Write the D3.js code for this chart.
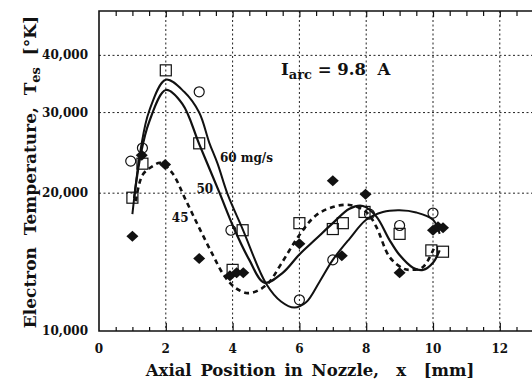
<!DOCTYPE html>
<html><head><meta charset="utf-8">
<script src="https://cdn.jsdelivr.net/npm/d3@7"></script>
<style>
html,body{margin:0;padding:0;background:#fff;}
svg{display:block;}
text{font-family:"DejaVu Serif",serif;font-weight:bold;fill:#111;}
</style></head>
<body><svg id="c" width="532" height="380"></svg>
<script>
// ---- data (x in mm, Te in K) ----
const xTicks = [0, 2, 4, 6, 8, 10, 12];
const yTicks = [10000, 20000, 30000, 40000];
const yTickLabels = ["10,000", "20,000", "30,000", "40,000"];

// 60 mg/s : open circles
const circleX = [0.95, 1.3, 3.0, 3.95, 6.0, 7.0, 8.1, 9.0, 10.0];
const circleT = [23500, 25100, 33300, 16600, 11700, 14300, 18000, 17000, 18100];
// 50 mg/s : open squares
const squareX = [1.0, 1.3, 2.0, 3.0, 4.0, 4.3, 6.0, 7.0, 7.3, 7.95, 9.0, 9.95, 10.3];
const squareT = [19550, 23200, 37100, 25700, 13600, 16600, 17200, 16700, 17200, 18200, 16300, 15000, 14900];
// 45 mg/s : filled diamonds
const diamondX = [1.0, 1.28, 1.98, 3.0, 3.92, 4.12, 4.32, 6.0, 7.0, 7.27, 7.98, 9.0, 10.0, 10.15, 10.3];
const diamondT = [16100, 24200, 23100, 14400, 13200, 13400, 13400, 15500, 21300, 14600, 19900, 13400, 16600, 16900, 16800];

// fitted curves
const fit60X = [1.0, 1.25, 1.5, 2.0, 2.55, 3.0, 3.3, 3.55, 3.85, 4.3, 5.0, 5.45, 5.85, 6.2, 6.6, 7.0, 7.5, 8.0, 8.5, 9.0, 9.5, 10.0, 10.2];
const fit60T = [18000, 25000, 30200, 35400, 33300, 30000, 25800, 23200, 19900, 16700, 12700, 11600, 11250, 11550, 12800, 14300, 15900, 17500, 18200, 18350, 18150, 17500, 16300];
const fit50X = [1.05, 1.25, 1.5, 2.0, 2.5, 3.0, 3.6, 4.05, 4.5, 4.95, 5.5, 6.0, 6.5, 7.0, 7.5, 7.9, 8.3, 8.7, 9.0, 9.4, 9.7, 10.0, 10.2];
const fit50T = [19500, 24300, 28600, 33600, 31300, 25600, 20100, 16700, 14300, 12750, 13400, 14700, 15900, 17200, 18500, 18750, 17800, 15800, 14650, 13750, 13600, 14100, 15000];
const fit45X = [1.1, 1.3, 1.6, 1.85, 2.2, 2.6, 3.0, 3.4, 3.75, 4.1, 4.45, 4.8, 5.1, 5.45, 6.0, 6.5, 7.0, 7.5, 8.0, 8.3, 8.7, 9.1, 9.3, 9.7, 10.05];
const fit45T = [19200, 21900, 22900, 23300, 22100, 19300, 16800, 14700, 13200, 12400, 12100, 12300, 12800, 14000, 16200, 17900, 18650, 18850, 18200, 16900, 14500, 13700, 13600, 13800, 15300];

const curveLabels = [
  {t: "60 mg/s", x: 3.62, y: 23400},
  {t: "50", x: 2.92, y: 20000},
  {t: "45", x: 2.18, y: 17300}
];

// ---- scales ----
const svg = d3.select("#c");
const x = d3.scaleLinear().domain([0, 14]).range([99, 99 + 14 * 33.4]);
const y = d3.scaleLog().domain([10000, 50000]).range([331, 11]);

// gridlines
const grid = svg.append("g").attr("stroke", "#222").attr("stroke-width", 1).attr("stroke-dasharray", "2,2.5");
grid.selectAll("line.v").data(xTicks.filter(d => d > 0)).join("line").attr("class", "v")
  .attr("x1", d => x(d)).attr("x2", d => x(d)).attr("y1", y(50000)).attr("y2", y(10000));
grid.selectAll("line.h").data(yTicks.filter(d => d > 10000)).join("line").attr("class", "h")
  .attr("x1", x(0)).attr("x2", 540).attr("y1", d => y(d)).attr("y2", d => y(d));

// axes via d3
const minorT = d3.range(0.5, 14, 0.5).filter(d => d % 2 !== 0);
const majorT = xTicks.filter(d => d > 0);
const gBottom = svg.append("g").attr("transform", `translate(0,${y(10000)})`);
gBottom.append("g").call(d3.axisTop(x).tickValues(minorT).tickSize(4).tickFormat(""));
gBottom.append("g").call(d3.axisTop(x).tickValues(majorT).tickSize(8).tickFormat(""));
const gTop = svg.append("g").attr("transform", `translate(0,${y(50000)})`);
gTop.append("g").call(d3.axisBottom(x).tickValues(minorT).tickSize(5).tickFormat(""));
gTop.append("g").call(d3.axisBottom(x).tickValues(majorT).tickSize(6).tickFormat(""));
svg.selectAll(".domain").remove();
svg.selectAll(".tick line").attr("stroke", "#111").attr("stroke-width", 1.2);

// frame
svg.append("path").attr("fill", "none").attr("stroke", "#111").attr("stroke-width", 1.6)
  .attr("d", `M540,${y(50000)}H${x(0)}V${y(10000)}H540`);

// tick labels
svg.append("g").selectAll("text").data(xTicks).join("text")
  .attr("x", d => x(d)).attr("y", 353).attr("text-anchor", "middle")
  .attr("font-size", 12).text(d => d);
svg.append("g").selectAll("text").data(yTicks).join("text")
  .attr("x", 88).attr("y", d => y(d) + 4).attr("text-anchor", "end")
  .attr("font-size", 12).text((d, i) => yTickLabels[i]);

// axis titles
svg.append("text").attr("x", 310).attr("y", 376).attr("text-anchor", "middle")
  .attr("font-size", 16.5).attr("word-spacing", 3).attr("xml:space", "preserve")
  .text("Axial Position in Nozzle,  x  [mm]");
const yt = svg.append("text").attr("transform", "translate(36,172) rotate(-90)")
  .attr("text-anchor", "middle").attr("font-size", 17).attr("xml:space", "preserve");
yt.append("tspan").text("Electron  Temperature,  T");
yt.append("tspan").attr("dy", 4).attr("font-size", 13).text("es");
yt.append("tspan").attr("dy", -4).text("  [°K]");

// annotation
const an = svg.append("text").attr("x", 281).attr("y", 75).attr("font-size", 16.5).attr("xml:space", "preserve");
an.append("tspan").text("I");
an.append("tspan").attr("dy", 4).attr("font-size", 13).text("arc");
an.append("tspan").attr("dy", -4).text(" = 9.8  A");

// curves
const line = d3.line().x(d => x(d[0])).y(d => y(d[1])).curve(d3.curveCatmullRom.alpha(0.5));
const zip = (a, b) => a.map((v, i) => [v, b[i]]);
svg.append("path").attr("d", line(zip(fit60X, fit60T))).attr("fill", "none").attr("stroke", "#111").attr("stroke-width", 2);
svg.append("path").attr("d", line(zip(fit50X, fit50T))).attr("fill", "none").attr("stroke", "#111").attr("stroke-width", 2.2);
svg.append("path").attr("d", line(zip(fit45X, fit45T))).attr("fill", "none").attr("stroke", "#111").attr("stroke-width", 2.6).attr("stroke-dasharray", "5,4");

// markers
svg.append("g").selectAll("circle").data(zip(circleX, circleT)).join("circle")
  .attr("cx", d => x(d[0])).attr("cy", d => y(d[1])).attr("r", 5)
  .attr("fill", "none").attr("stroke", "#111").attr("stroke-width", 1.2);
svg.append("g").selectAll("rect").data(zip(squareX, squareT)).join("rect")
  .attr("x", d => x(d[0]) - 5.5).attr("y", d => y(d[1]) - 5.5).attr("width", 11).attr("height", 11)
  .attr("fill", "none").attr("stroke", "#111").attr("stroke-width", 1.2);
svg.append("g").selectAll("path").data(zip(diamondX, diamondT)).join("path")
  .attr("d", d => { const cx = x(d[0]), cy = y(d[1]); return `M${cx-6},${cy}L${cx},${cy-5.5}L${cx+6},${cy}L${cx},${cy+5.5}Z`; })
  .attr("fill", "#111");

// curve labels
svg.append("g").selectAll("text").data(curveLabels).join("text")
  .attr("x", d => x(d.x)).attr("y", d => y(d.y)).attr("font-size", 12).text(d => d.t);
</script></body></html>
